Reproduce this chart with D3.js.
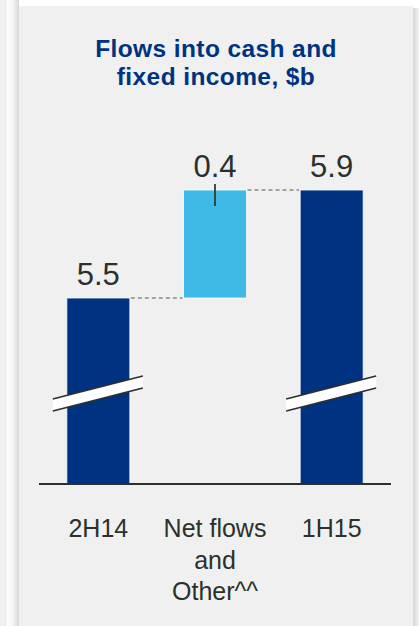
<!DOCTYPE html>
<html>
<head>
<meta charset="utf-8">
<script src="https://cdn.jsdelivr.net/npm/d3@7"></script>
<style>
  html, body { margin: 0; padding: 0; background: #ffffff; }
  svg { display: block; }
</style>
</head>
<body>
<div id="chart"></div>
<script>
// data
const categories = ['2H14', 'Net flows and Other^^', '1H15'];
const values = [5.5, 0.4, 5.9];
const kinds = ['total', 'delta', 'total'];
const labelLines = [['2H14'], ['Net flows', 'and', 'Other^^'], ['1H15']];
const titleLines = ['Flows into cash and', 'fixed income, $b'];

const width = 419;
const height = 626;
const navy = '#003282';
const sky = '#3fb9e5';
const textColor = '#2b302c';
const font = 'Liberation Sans, Arial, sans-serif';

const svg = d3.select('#chart')
  .append('svg')
  .attr('width', width)
  .attr('height', height);

// background panels + shadows
const defs = svg.append('defs');
const shadowL = defs.append('linearGradient').attr('id', 'shL');
shadowL.append('stop').attr('offset', '0%').attr('stop-color', '#ffffff');
shadowL.append('stop').attr('offset', '45%').attr('stop-color', '#f6f6f6');
shadowL.append('stop').attr('offset', '100%').attr('stop-color', '#d8d8d8');
const shadowR = defs.append('linearGradient').attr('id', 'shR');
shadowR.append('stop').attr('offset', '0%').attr('stop-color', '#d4d4d4');
shadowR.append('stop').attr('offset', '100%').attr('stop-color', '#f4f4f4');

svg.append('rect').attr('x', 0).attr('y', 0).attr('width', 7).attr('height', height).attr('fill', '#f0f0f0');
svg.append('rect').attr('x', 7).attr('y', 0).attr('width', 12).attr('height', height).attr('fill', 'url(#shL)');
svg.append('rect').attr('x', 19).attr('y', 6).attr('width', 394).attr('height', height - 6).attr('fill', '#f0f0f0');
svg.append('rect').attr('x', 413).attr('y', 8).attr('width', 6).attr('height', height - 8).attr('fill', 'url(#shR)');

// title, one text per line
svg.append('g')
  .selectAll('text')
  .data(titleLines)
  .enter()
  .append('text')
  .attr('x', 216)
  .attr('y', (d, i) => 56.5 + i * 28.5)
  .attr('text-anchor', 'middle')
  .attr('font-family', font)
  .attr('font-weight', 'bold')
  .attr('font-size', '24.5px')
  .attr('letter-spacing', '0.4px')
  .attr('fill', navy)
  .text(d => d);

// scales (axis is broken, so baseline sits at ~4.81)
const x = d3.scaleBand()
  .domain(categories)
  .range([40, 390])
  .paddingInner(0.46)
  .paddingOuter(0.23);

const y = d3.scaleLinear()
  .domain([4.811, 5.9])
  .range([484, 190]);

// waterfall steps
let running = 0;
const steps = categories.map((c, i) => {
  let lo;
  let hi;
  if (kinds[i] === 'total') {
    lo = y.domain()[0];
    hi = values[i];
    running = values[i];
  } else {
    lo = running;
    hi = running + values[i];
    running = hi;
  }
  return { cat: c, value: values[i], kind: kinds[i], lo, hi, lines: labelLines[i] };
});

const cx = d => x(d.cat) + x.bandwidth() / 2;

// connectors
const conn = svg.append('g');
steps.slice(0, -1).forEach((s, i) => {
  const next = steps[i + 1];
  conn.append('line')
    .attr('x1', x(s.cat) + x.bandwidth() + 1)
    .attr('x2', x(next.cat) - 1)
    .attr('y1', y(s.hi))
    .attr('y2', y(s.hi))
    .attr('stroke', '#8a8a8a')
    .attr('stroke-width', 1.3)
    .attr('stroke-dasharray', '4,3');
});

// bars
svg.append('g')
  .selectAll('rect')
  .data(steps)
  .enter()
  .append('rect')
  .attr('x', d => x(d.cat))
  .attr('y', d => y(d.hi))
  .attr('width', x.bandwidth())
  .attr('height', d => y(d.lo) - y(d.hi))
  .attr('fill', d => (d.kind === 'total' ? navy : sky))
  .attr('stroke', '#ffffff')
  .attr('stroke-opacity', 0.8)
  .attr('stroke-width', 1);

// small tick on delta bar
steps.filter(d => d.kind === 'delta').forEach((d) => {
  svg.append('line')
    .attr('x1', cx(d))
    .attr('x2', cx(d))
    .attr('y1', y(d.hi) - 6)
    .attr('y2', y(d.hi) + 16)
    .attr('stroke', '#2f3b3b')
    .attr('stroke-width', 1.8);
});

// break marks on total bars
steps.filter(d => d.kind === 'total').forEach((d) => {
  const x0 = x(d.cat) - 14;
  const x1 = x(d.cat) + x.bandwidth() + 13;
  const g = svg.append('g');
  g.append('path')
    .attr('d', `M${x0},399 L${x1},376 L${x1},388 L${x0},411 Z`)
    .attr('fill', '#ffffff');
  g.append('line')
    .attr('x1', x0).attr('y1', 399).attr('x2', x1).attr('y2', 376)
    .attr('stroke', '#2b302c').attr('stroke-width', 1.8);
  g.append('line')
    .attr('x1', x0).attr('y1', 411).attr('x2', x1).attr('y2', 388)
    .attr('stroke', '#2b302c').attr('stroke-width', 1.8);
});

// axis line
const xAxis = svg.append('g')
  .attr('transform', `translate(0,${y.range()[0]})`)
  .call(d3.axisBottom(x).tickSize(0).tickFormat(''));
xAxis.select('.domain')
  .attr('d', 'M39,0H391')
  .attr('stroke', '#2b302c')
  .attr('stroke-width', 2);

// value labels
svg.append('g')
  .selectAll('text')
  .data(steps)
  .enter()
  .append('text')
  .attr('x', cx)
  .attr('y', d => y(d.hi) - 13)
  .attr('text-anchor', 'middle')
  .attr('font-family', font)
  .attr('font-size', '31px')
  .attr('fill', textColor)
  .text(d => d.value.toFixed(1));

// category labels, one text per line
const catLines = [];
steps.forEach((d) => {
  d.lines.forEach((l, i) => catLines.push({ text: l, x: cx(d), row: i }));
});
svg.append('g')
  .selectAll('text')
  .data(catLines)
  .enter()
  .append('text')
  .attr('x', d => d.x)
  .attr('y', d => 537 + d.row * 31.5)
  .attr('text-anchor', 'middle')
  .attr('font-family', font)
  .attr('font-size', '25px')
  .attr('fill', textColor)
  .text(d => d.text);
</script>
</body>
</html>
